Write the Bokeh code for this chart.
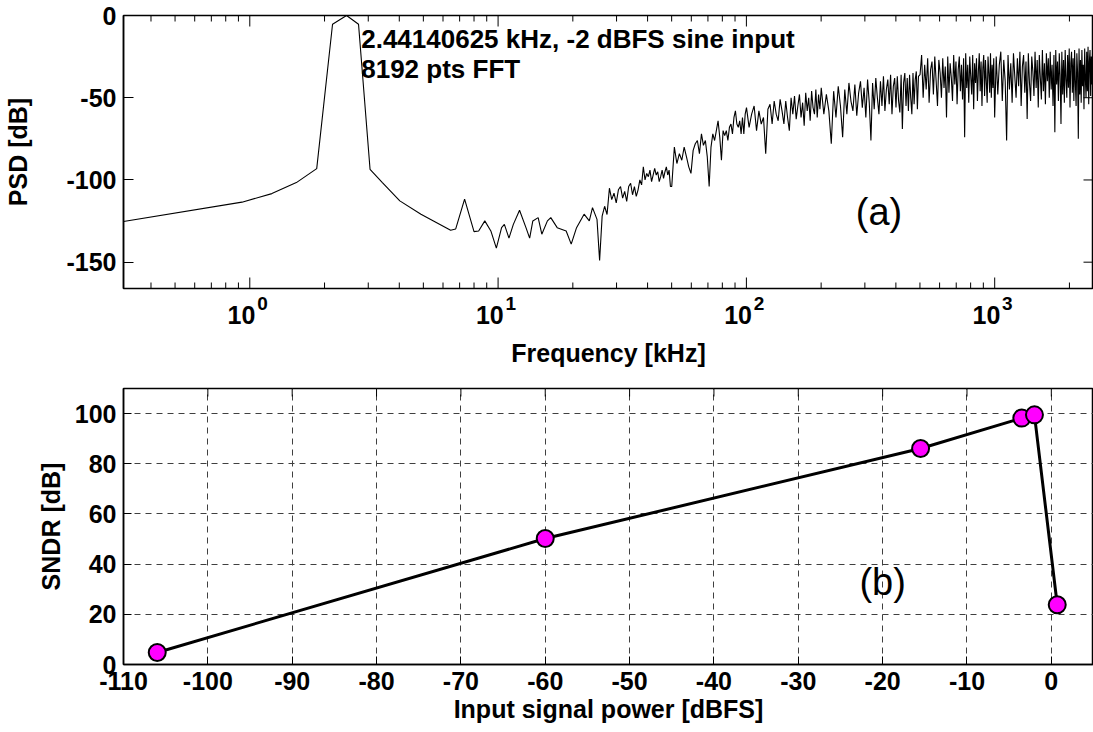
import math
from bokeh.plotting import figure
from bokeh.layouts import column
from bokeh.models import FixedTicker, Range1d, LogAxis
from bokeh.core.properties import value
from bokeh.embed import file_html
from bokeh.resources import INLINE

FONT = "Liberation Sans"

# ---------------- panel (a): PSD ----------------
# sparse low-frequency part, read point by point (kHz, dB)
psd_freq_low = [0.31, 0.93, 1.227, 1.54, 1.86, 2.154, 2.453, 2.741, 3.05, 3.42, 4.02, 4.89,
                6.44, 6.75, 7.33, 8.0, 8.35, 8.84, 9.35, 9.84, 10.33, 10.6, 11.06, 11.52,
                12.2, 12.95, 13.4, 13.8, 14.5, 15.0, 15.8, 16.3, 17.3, 18.8, 19.7, 20.7,
                22.2, 23.3, 24.0]
psd_db_low = [-125.3, -113.5, -108.3, -101.6, -93.1, -5.3, 0.0, -5.3, -93.5, -101.6, -112.7, -120.8,
              -130.6, -129.8, -111.7, -131.4, -131.0, -124.9, -131.0, -141.5, -129.0, -127.0, -135.4, -127.0,
              -118.4, -129.0, -135.4, -124.9, -122.9, -133.0, -124.9, -122.9, -129.0, -131.0, -139.0, -129.0,
              -120.8, -124.9, -116.8]

# dense part: FFT bins (fs = 5 MHz, 8192 points), values read segment by segment
fft_bin_khz = 5000.0 / 8192
seg_start_bin = [41, 82, 164, 328, 820, 1638]
seg_bin_step = [1, 2, 4, 8, 12, 24]
seg_db_25_50 = [-124, -149, -122, -116, -121, -105, -112, -108, -114, -106, -104, -111, -107, -113,
                -104, -102, -109, -104, -110, -106, -100, -103, -92, -100, -96, -98, -94, -101,
                -97, -93, -97, -95, -101, -98, -94, -99, -95, -92, -97, -94, -104]
seg_db_50_100 = [-104, -80, -90, -84, -88, -80, -86, -92, -96, -82, -78, -76, -84, -72, -79, -76,
                 -86, -104, -80, -72, -76, -70, -64, -74, -88, -70, -73, -70, -76, -68, -66, -72,
                 -62, -58, -66, -68, -64, -72, -62, -72, -60]
seg_db_100_200 = [-56, -68, -60, -55, -70, -58, -66, -62, -84, -57, -54, -66, -52, -60, -64, -51,
                  -58, -66, -52, -62, -70, -50, -60, -49, -63, -55, -48, -62, -53, -67, -47, -58,
                  -50, -64, -46, -56, -60, -45, -62, -48, -57]
seg_db_200_500 = [-44, -60, -48, -58, -78, -46, -62, -43, -55, -74, -45, -60, -41, -52, -58, -42,
                  -61, -47, -40, -56, -44, -62, -39, -53, -76, -41, -57, -38, -50, -60, -40, -55,
                  -37, -58, -45, -39, -54, -36, -60, -43, -38, -56, -37, -52, -59, -36, -69, -41,
                  -35, -55, -38, -58, -36, -50, -60, -35, -54, -39, -34, -57, -37]
seg_db_500_1000 = [-36, -24, -50, -30, -45, -26, -53, -33, -28, -48, -25, -40, -55, -27, -35, -50,
                   -26, -44, -31, -62, -25, -47, -29, -38, -52, -24, -42, -28, -54, -33, -25, -46,
                   -30, -51, -26, -74, -23, -44, -30, -53, -25, -37, -48, -24, -57, -29, -41, -26,
                   -52, -34, -23, -46, -28, -55, -32, -24, -49, -27, -40, -53, -25, -35, -47, -23,
                   -50, -30, -44, -26]
seg_db_1000_2500 = [-62, -25, -48, -30, -22, -52, -27, -40, -76, -24, -45, -29, -53, -23, -37, -50,
                    -26, -43, -22, -55, -31, -24, -47, -28, -63, -23, -41, -52, -25, -34, -49, -22,
                    -44, -27, -56, -24, -38, -51, -21, -46, -29, -54, -23, -40, -26, -50, -22, -45,
                    -30, -55, -24, -71, -21, -42, -28, -52, -23, -37, -66, -22, -48, -27, -53, -21,
                    -39, -50, -24, -44, -20, -56, -29, -22, -47, -26, -52, -21, -41, -55, -23, -35,
                    -75, -20, -48, -27, -53, -21, -43, -30, -57, -20, -38, -50, -22, -46, -19, -54,
                    -28, -21, -49, -25, -42, -20, -52]
seg_db = [seg_db_25_50, seg_db_50_100, seg_db_100_200, seg_db_200_500, seg_db_500_1000, seg_db_1000_2500]

psd_freq = list(psd_freq_low)
psd_db = list(psd_db_low)
for start, step, vals in zip(seg_start_bin, seg_bin_step, seg_db):
    for i, v in enumerate(vals):
        psd_freq.append((start + i * step) * fft_bin_khz)
        psd_db.append(v)

psd_x_range = (0.31, 2500)
psd_y_range = (-166, 0)
psd_major_ticks = [1, 10, 100, 1000]
psd_major_exp = ["0", "1", "2", "3"]
psd_y_ticks = [-150, -100, -50, 0]
note_lines = ["2.44140625 kHz, -2 dBFS sine input", "8192 pts FFT"]

# ---------------- panel (b): SNDR ----------------
power_dbfs = [-106, -60, -15.5, -3.5, -2, 0.7]
sndr_db = [4.8, 50.2, 86.1, 98.2, 99.5, 23.8]
sndr_x_range = (-110, 5)
sndr_y_range = (0, 110)
sndr_x_ticks = [-110, -100, -90, -80, -70, -60, -50, -40, -30, -20, -10, 0]
sndr_y_ticks = [0, 20, 40, 60, 80, 100]

TICK_SIZE = "25px"
LABEL_SIZE = "25px"


def style_axis(ax, label_standoff, axis_label_standoff, tick_in, size=TICK_SIZE):
    ax.major_tick_in = tick_in
    ax.major_tick_out = 0
    ax.minor_tick_in = 0
    ax.minor_tick_out = 0
    ax.major_label_text_font = FONT
    ax.major_label_text_font_style = "bold"
    ax.major_label_text_font_size = size
    ax.major_label_text_color = "black"
    ax.major_label_standoff = label_standoff
    ax.axis_label_text_font = FONT
    ax.axis_label_text_font_style = "bold"
    ax.axis_label_text_font_size = LABEL_SIZE
    ax.axis_label_text_color = "black"
    ax.axis_label_standoff = axis_label_standoff
    ax.axis_line_color = "black"
    ax.axis_line_width = 1.5
    ax.major_tick_line_color = "black"


# ---- top figure ----
top = figure(width=1093, height=378, x_axis_type="log",
             x_range=Range1d(*psd_x_range), y_range=Range1d(*psd_y_range),
             output_backend="svg", toolbar_location=None,
             min_border_left=123, min_border_right=0, min_border_top=15, min_border_bottom=90)
top.grid.visible = False
top.outline_line_color = "black"
top.outline_line_width = 1.5

top.line(psd_freq, psd_db, line_color="black", line_width=1.1)

ya = top.yaxis[0]
ya.ticker = FixedTicker(ticks=psd_y_ticks, minor_ticks=[])
ya.major_label_overrides = {t: str(t) for t in psd_y_ticks}
ya.axis_label = "PSD [dB]"
style_axis(ya, 7, 31, 10)

# log tick labels written as "10" with a raised exponent: two label rows
exp_pos = [t * 1.125 for t in psd_major_ticks]     # exponent sits right of the tick
base_pos = [t * 0.926 for t in psd_major_ticks]    # "10" sits left of the tick
xa = top.xaxis[0]
xa.ticker = FixedTicker(ticks=exp_pos, minor_ticks=[])
xa.major_label_overrides = {p: e for p, e in zip(exp_pos, psd_major_exp)}
style_axis(xa, 8, 0, 0, size="19px")
xa.axis_line_color = None

xb = LogAxis(ticker=FixedTicker(ticks=base_pos, minor_ticks=[]))
xb.major_label_overrides = {p: "10" for p in base_pos}
xb.axis_label = "Frequency [kHz]"
style_axis(xb, -7, 12, 0)
xb.axis_line_color = None
top.add_layout(xb, "below")

# inward tick marks on bottom / top / right edges of the box
minor = [k * 10.0 ** e for e in range(-1, 4) for k in range(2, 10)
         if psd_x_range[0] <= k * 10.0 ** e <= psd_x_range[1]]
for yedge in psd_y_range:
    top.scatter(psd_major_ticks, [yedge] * len(psd_major_ticks), marker="dash", angle=math.pi / 2,
                size=22, line_color="black", line_width=1)
    top.scatter(minor, [yedge] * len(minor), marker="dash", angle=math.pi / 2,
                size=12, line_color="black", line_width=1)
top.scatter([psd_x_range[1]] * len(psd_y_ticks), psd_y_ticks, marker="dash",
            size=20, line_color="black", line_width=1)

top.text(x=[2.81, 2.81], y=[-14.5, -32.8], text=note_lines,
         text_font=value(FONT), text_font_style="bold", text_font_size="26px",
         text_align="left", text_baseline="middle", text_color="black")
top.text(x=[342], y=[-119.4], text=["(a)"], text_font=value(FONT),
         text_font_size="38px", text_align="center", text_baseline="middle", text_color="black")

# ---- bottom figure ----
bot = figure(width=1093, height=354, x_range=Range1d(*sndr_x_range), y_range=Range1d(*sndr_y_range),
             output_backend="svg", toolbar_location=None,
             min_border_left=123, min_border_right=0, min_border_top=10, min_border_bottom=68)
bot.outline_line_color = "black"
bot.outline_line_width = 1.5
bx_ticker = FixedTicker(ticks=sndr_x_ticks, minor_ticks=[])
by_ticker = FixedTicker(ticks=sndr_y_ticks, minor_ticks=[])

bxa = bot.xaxis[0]
bxa.ticker = bx_ticker
bxa.major_label_overrides = {t: str(t) for t in sndr_x_ticks}
bxa.axis_label = "Input signal power [dBFS]"
style_axis(bxa, 7, 2, 8)
bya = bot.yaxis[0]
bya.ticker = by_ticker
bya.axis_label = "SNDR [dB]"
style_axis(bya, 7, 7, 8)

bot.scatter(sndr_x_ticks, [sndr_y_range[1]] * len(sndr_x_ticks), marker="dash", angle=math.pi / 2,
            size=16, line_color="black", line_width=1)

bot.xgrid.ticker = bx_ticker
bot.ygrid.ticker = by_ticker
for g in (bot.xgrid[0], bot.ygrid[0]):
    g.grid_line_color = "#404040"
    g.grid_line_width = 1
    g.grid_line_dash = "6 5"

bot.line(power_dbfs, sndr_db, line_color="black", line_width=3)
bot.scatter(power_dbfs, sndr_db, size=17, fill_color="#FF00FF", line_color="black", line_width=2)
bot.text(x=[-20], y=[32.7], text=["(b)"], text_font=value(FONT), text_font_size="38px",
         text_align="center", text_baseline="middle", text_color="black")

layout = column(top, bot, spacing=0)
open("out.html", "w").write(file_html(layout, INLINE))
